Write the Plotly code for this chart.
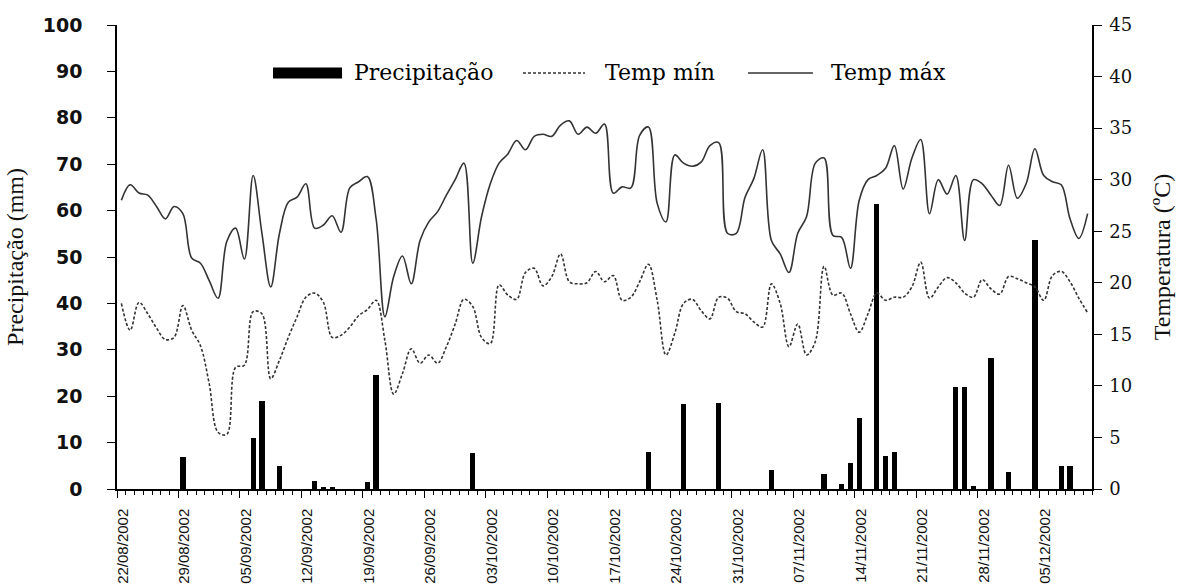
import datetime as dt
import plotly.graph_objects as go

# Daily series from 22/08/2002 to 10/12/2002
start_date = dt.date(2002, 8, 22)

temp_max = [
    28.0, 29.5, 28.7, 28.5, 27.4, 26.2, 27.4, 26.7, 22.4, 21.9,
    20.2, 18.5, 24.0, 25.3, 22.3, 30.4, 24.8, 19.6, 24.8, 27.8,
    28.3, 29.6, 25.3, 25.6, 26.5, 24.9, 29.2, 29.8, 30.3, 26.2,
    16.7, 20.6, 22.6, 19.9, 24.1, 25.9, 26.9, 28.5, 30.0, 31.6,
    21.9, 26.4, 29.6, 31.6, 32.5, 33.8, 32.9, 34.2, 34.4, 34.2,
    35.3, 35.7, 34.4, 35.1, 34.5, 35.4, 28.7, 29.3, 29.2, 34.3,
    35.1, 27.7, 25.9, 32.4, 31.6, 31.3, 31.7, 33.3, 33.6, 24.8,
    24.8, 28.3, 30.1, 32.9, 24.1, 22.8, 21.0, 24.8, 26.4, 31.6,
    32.1, 24.6, 24.4, 21.4, 28.0, 30.0, 30.4, 31.1, 33.3, 29.1,
    32.1, 33.9, 26.7, 30.0, 28.6, 30.4, 24.1, 30.0, 29.6, 28.5,
    27.5, 31.4, 28.2, 29.6, 33.0, 30.4, 29.8, 29.5, 26.2, 24.3,
    26.7,
]

temp_min = [
    18.0, 15.4, 18.1, 17.0, 15.6, 14.5, 14.7, 17.8, 15.4, 13.9,
    10.2, 5.5, 5.3, 11.8, 12.0, 17.2, 17.0, 10.7, 12.5, 14.7,
    16.7, 18.6, 19.0, 18.1, 14.7, 14.9, 15.7, 16.8, 17.4, 18.3,
    14.4, 9.2, 11.2, 13.6, 12.2, 13.0, 12.2, 13.8, 16.0, 18.4,
    17.7, 14.7, 14.1, 19.8, 18.8, 18.4, 21.0, 21.4, 19.7, 20.6,
    22.8, 20.1, 19.9, 20.0, 21.1, 20.1, 20.7, 18.3, 18.6, 20.1,
    21.8, 18.3, 13.0, 15.1, 18.0, 18.4, 17.3, 16.5, 18.6, 18.5,
    17.2, 17.0, 16.2, 15.7, 19.9, 18.0, 13.8, 16.0, 13.0, 14.3,
    21.6, 18.8, 19.0, 17.0, 15.2, 17.0, 19.0, 18.3, 18.6, 18.6,
    19.6, 22.0, 18.5, 19.6, 20.5, 20.0, 19.0, 18.6, 20.3, 19.4,
    18.9, 20.6, 20.4, 20.0, 19.6, 18.3, 20.7, 21.1, 20.1, 18.5,
    17.1,
]

# Rainy days only (all other days had no rain)
precip_dates = [
    "2002-08-29", "2002-09-06", "2002-09-07", "2002-09-09", "2002-09-13",
    "2002-09-14", "2002-09-15", "2002-09-19", "2002-09-20", "2002-10-01",
    "2002-10-21", "2002-10-25", "2002-10-29", "2002-11-04", "2002-11-10",
    "2002-11-12", "2002-11-13", "2002-11-14", "2002-11-16", "2002-11-17",
    "2002-11-18", "2002-11-25", "2002-11-26", "2002-11-27", "2002-11-29",
    "2002-12-01", "2002-12-04", "2002-12-07", "2002-12-08",
]
precip_mm = [
    7.0, 11.0, 19.0, 5.0, 1.8,
    0.4, 0.3, 1.5, 24.5, 7.7,
    8.0, 18.3, 18.6, 4.0, 3.2,
    1.0, 5.5, 15.2, 61.5, 7.2,
    8.0, 22.0, 22.0, 0.6, 28.2,
    3.7, 53.7, 5.0, 5.0,
]

tick_labels = [
    "22/08/2002", "29/08/2002", "05/09/2002", "12/09/2002",
    "19/09/2002", "26/09/2002", "03/10/2002", "10/10/2002",
    "17/10/2002", "24/10/2002", "31/10/2002", "07/11/2002",
    "14/11/2002", "21/11/2002", "28/11/2002", "05/12/2002",
]

# Day index of each value (day 0 = 22/08/2002)
day_idx = list(range(len(temp_max)))
precip_idx = [(dt.date.fromisoformat(d) - start_date).days for d in precip_dates]
tick_idx = [(dt.datetime.strptime(t, "%d/%m/%Y").date() - start_date).days - 0.5
            for t in tick_labels]

line_col = "#333333"
text_col = "#111111"

fig = go.Figure()
fig.add_trace(go.Bar(
    x=precip_idx, y=precip_mm, width=0.6,
    marker=dict(color="black", line=dict(width=0)),
    name="Precipitação", showlegend=False,
))
fig.add_trace(go.Scatter(
    x=day_idx, y=temp_min, yaxis="y2", mode="lines",
    line=dict(color=line_col, width=1.6, dash="3px,2px", shape="spline"),
    name="Temp mín", showlegend=False,
))
fig.add_trace(go.Scatter(
    x=day_idx, y=temp_max, yaxis="y2", mode="lines",
    line=dict(color=line_col, width=1.6, shape="spline"),
    name="Temp máx", showlegend=False,
))

n = len(day_idx)
fig.update_layout(
    width=1180, height=587,
    margin=dict(l=117, r=88, t=25, b=98),
    paper_bgcolor="white", plot_bgcolor="white",
    bargap=0,
    xaxis=dict(
        range=[-0.5, n - 0.5], automargin=False,
        showline=True, linecolor="black", linewidth=1.5,
        showgrid=False, zeroline=False,
        tickmode="array", tickvals=tick_idx, ticktext=tick_labels,
        ticks="outside", ticklen=7, tickwidth=1.3, tickcolor="black",
        tickangle=-90, ticklabelshift=6, ticklabelstandoff=5,
        tickfont=dict(family="Liberation Sans Narrow, Arial Narrow, Liberation Sans",
                      size=15, color=text_col),
        minor=dict(tick0=-0.5, dtick=1, ticks="outside", ticklen=4,
                   tickwidth=1, tickcolor="black", showgrid=False),
    ),
    yaxis=dict(
        range=[0, 100], dtick=10, automargin=False,
        showline=True, linecolor="black", linewidth=1.5,
        showgrid=False, zeroline=False,
        ticks="outside", ticklen=8, tickwidth=1.3, tickcolor="black",
        ticklabelstandoff=21,
        tickfont=dict(family="DejaVu Sans", size=19, weight=700, color=text_col),
        title=dict(text="Precipitação (mm)", standoff=12,
                   font=dict(family="Liberation Serif", size=24, color=text_col)),
    ),
    yaxis2=dict(
        range=[0, 45], dtick=5, overlaying="y", side="right", anchor="x",
        automargin=False,
        showline=True, linecolor="black", linewidth=1.5,
        showgrid=False, zeroline=False,
        ticks="outside", ticklen=8, tickwidth=1.3, tickcolor="black",
        ticklabelstandoff=4,
        tickfont=dict(family="DejaVu Serif", size=18, color=text_col),
        title=dict(text="Temperatura (ºC)", standoff=22,
                   font=dict(family="Liberation Serif", size=24, color=text_col)),
    ),
)

# Legend row drawn inside the plot area
legend_y = 0.8966
legend_font = dict(family="DejaVu Serif", size=22, color="black")
fig.add_shape(type="rect", xref="paper", yref="paper",
              x0=0.160, x1=0.2308, y0=legend_y - 0.012, y1=legend_y + 0.012,
              fillcolor="black", line=dict(width=0))
fig.add_shape(type="line", xref="paper", yref="paper",
              x0=0.4164, x1=0.480, y0=legend_y, y1=legend_y,
              line=dict(color=line_col, width=1.6, dash="3px,2px"))
fig.add_shape(type="line", xref="paper", yref="paper",
              x0=0.6472, x1=0.7138, y0=legend_y, y1=legend_y,
              line=dict(color=line_col, width=1.6))
for text, x in [("Precipitação", 0.241), ("Temp mín", 0.4985), ("Temp máx", 0.7303)]:
    fig.add_annotation(text=text, xref="paper", yref="paper", x=x, y=legend_y,
                       xanchor="left", yanchor="middle", showarrow=False,
                       font=legend_font)

fig.write_html("out.html")
